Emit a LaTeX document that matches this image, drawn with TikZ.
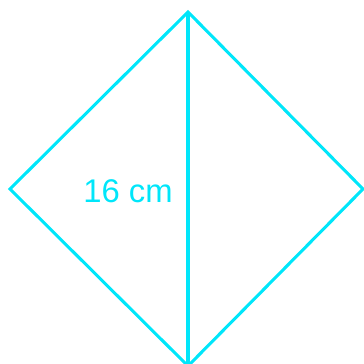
\documentclass[tikz,border=0pt]{standalone}
\usepackage{fontspec}
\setmainfont{Liberation Sans}
\usepackage{xcolor}
\usepackage{tikz}
\definecolor{rhombcyan}{HTML}{00E6FA}

\begin{document}
\begin{tikzpicture}[
    x=0.03cm,y=-0.03cm,
    edge/.style={draw=rhombcyan,line width=2.6pt,line join=miter},
    sidelabel/.style={text=rhombcyan,font=\fontsize{28}{30}\selectfont,inner sep=0pt}
  ]
    \useasboundingbox (0,0) rectangle (363,364);
    % vertices of the rhombus
    \coordinate (top) at (188,12);
    \coordinate (left) at (10,189);
    \coordinate (right) at (363,189);
    \coordinate (bottom) at (188,366);
    \draw[edge] (top) -- (right) -- (bottom) -- (left) -- cycle;
    \draw[edge] (top) -- (bottom);
    \node[sidelabel] (diaglabel) at (128,191) {16 cm};
  \end{tikzpicture}
\end{document}
